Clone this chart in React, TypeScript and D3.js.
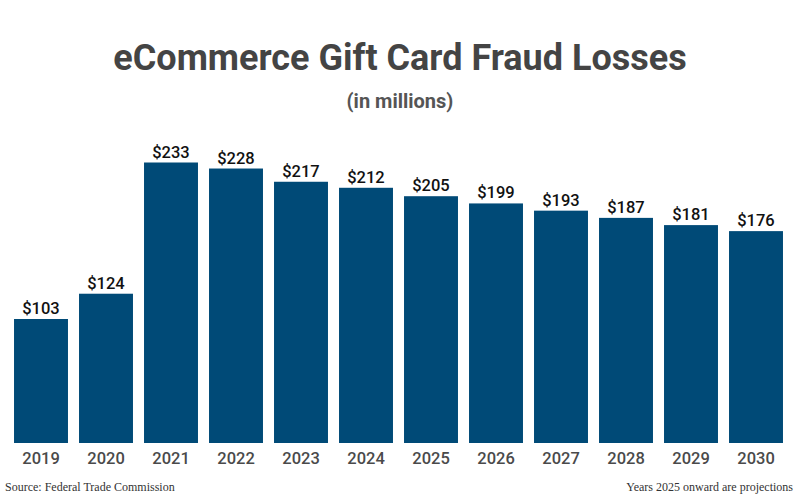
import { useEffect, useRef } from "react";
import * as d3 from "d3";

const years = ["2019", "2020", "2021", "2022", "2023", "2024", "2025", "2026", "2027", "2028", "2029", "2030"];
const losses = [103, 124, 233, 228, 217, 212, 205, 199, 193, 187, 181, 176];

const title = "eCommerce Gift Card Fraud Losses";
const subtitle = "(in millions)";
const sourceNote = "Source: Federal Trade Commission";
const projectionNote = "Years 2025 onward are projections";

export default function App() {
  const svgRef = useRef<SVGSVGElement | null>(null);

  useEffect(() => {
    if (!svgRef.current) return;
    const svg = d3.select(svgRef.current);
    svg.selectAll("*").remove();

    const width = 800;
    const height = 500;
    const baseline = 443;
    const font = "Roboto, sans-serif";

    const rows = years.map((year, i) => ({ year, value: losses[i] }));

    const x = d3
      .scaleBand<string>()
      .domain(years)
      .range([8.5, 788.5])
      .paddingInner(0.17)
      .paddingOuter(0.085);

    const y = d3
      .scaleLinear()
      .domain([0, d3.max(losses) ?? 0])
      .range([baseline, 162.5]);

    svg.append("rect").attr("width", width).attr("height", height).attr("fill", "#ffffff");

    svg
      .append("text")
      .attr("x", width / 2)
      .attr("y", 70)
      .attr("text-anchor", "middle")
      .attr("font-family", font)
      .attr("font-weight", 700)
      .attr("font-size", 36)
      .attr("fill", "#444444")
      .text(title);

    svg
      .append("text")
      .attr("x", width / 2)
      .attr("y", 108)
      .attr("text-anchor", "middle")
      .attr("font-family", font)
      .attr("font-weight", 700)
      .attr("font-size", 20)
      .attr("fill", "#555555")
      .text(subtitle);

    const bars = svg.append("g").attr("class", "bars");

    bars
      .selectAll("rect")
      .data(rows)
      .join("rect")
      .attr("x", (d) => x(d.year) ?? 0)
      .attr("y", (d) => y(d.value))
      .attr("width", x.bandwidth())
      .attr("height", (d) => baseline - y(d.value))
      .attr("fill", "#004a77");

    bars
      .selectAll("text.value")
      .data(rows)
      .join("text")
      .attr("class", "value")
      .attr("x", (d) => (x(d.year) ?? 0) + x.bandwidth() / 2)
      .attr("y", (d) => y(d.value) - 5)
      .attr("text-anchor", "middle")
      .attr("font-family", font)
      .attr("font-weight", 500)
      .attr("font-size", 16.5)
      .attr("fill", "#111111")
      .text((d) => `$${d.value}`);

    const xAxis = svg
      .append("g")
      .attr("transform", `translate(0,${baseline})`)
      .call(d3.axisBottom(x).tickSize(0).tickPadding(9));
    xAxis.select(".domain").remove();
    xAxis
      .selectAll("text")
      .attr("font-family", font)
      .attr("font-weight", 500)
      .attr("font-size", 16.5)
      .attr("fill", "#4a4a4a");

    svg
      .append("text")
      .attr("x", 5)
      .attr("y", 491)
      .attr("font-family", "'Liberation Serif', 'Times New Roman', serif")
      .attr("font-size", 12)
      .attr("fill", "#333333")
      .text(sourceNote);

    svg
      .append("text")
      .attr("x", 793)
      .attr("y", 491)
      .attr("text-anchor", "end")
      .attr("font-family", "'Liberation Serif', 'Times New Roman', serif")
      .attr("font-size", 12)
      .attr("fill", "#333333")
      .text(projectionNote);
  }, []);

  return (
    <svg
      ref={svgRef}
      width={800}
      height={500}
      style={{ position: "absolute", left: 0, top: 0 }}
    />
  );
}
